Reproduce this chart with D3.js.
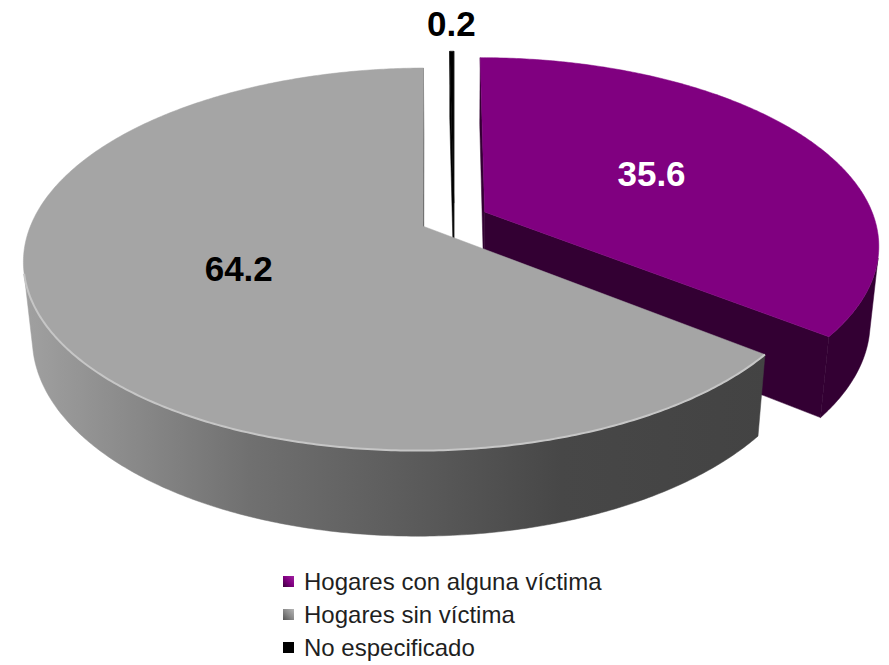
<!DOCTYPE html>
<html>
<head>
<meta charset="utf-8">
<script src="https://cdn.jsdelivr.net/npm/d3@7"></script>
<style>
  body { margin: 0; background: #fff; }
  svg { display: block; font-family: Arial, "Liberation Sans", sans-serif; }
</style>
</head>
<body>
<div id="chart"></div>
<script>
// data
var categories = ["Hogares con alguna víctima", "Hogares sin víctima", "No especificado"];
var values = [35.6, 64.2, 0.2];
var valueLabels = ["35.6", "64.2", "0.2"];

var width = 889, height = 665;
var topColors = ["#800080", "#a5a5a5", "#000000"];
var sideColors = ["#330033", "url(#graySide)", "#000000"];
var faceColors = ["#330033", "#444444", "#000000"];
var labelColors = ["#ffffff", "#000000", "#000000"];
var labelRadius = [0.5, 0.5, 1.22];

// 3d view (unit radius pie, perspective camera)
var cx = 454, cy = 219, S = 390;
var tilt = 28 * Math.PI / 180, dist = 5.14, depth = 0.223, explode = 0.088;
var sinT = Math.sin(tilt), cosT = Math.cos(tilt);
var cam = {x: 0, y: dist * sinT, z: -dist * cosT};

var sx = d3.scaleLinear().domain([-1, 1]).range([cx - S, cx + S]);
var sy = d3.scaleLinear().domain([-1, 1]).range([cy + S, cy - S]);

function project(x, y, z) {
  var w = 1 + (z * cosT - y * sinT) / dist;
  return [sx(x / w), sy((y * cosT + z * sinT) / w)];
}

var svg = d3.select("#chart").append("svg")
  .attr("width", width)
  .attr("height", height);

var defs = svg.append("defs");
var g1 = defs.append("linearGradient").attr("id", "graySide")
  .attr("gradientUnits", "userSpaceOnUse")
  .attr("x1", 27).attr("x2", 770).attr("y1", 0).attr("y2", 0);
[[0, "#a0a0a0"], [0.3, "#707070"], [0.53, "#5a5a5a"], [0.72, "#474747"], [1, "#434343"]]
  .forEach(function(s) { g1.append("stop").attr("offset", s[0]).attr("stop-color", s[1]); });

var lg1 = defs.append("linearGradient").attr("id", "legPurple")
  .attr("x1", 0).attr("y1", 1).attr("x2", 1).attr("y2", 0);
lg1.append("stop").attr("offset", 0).attr("stop-color", "#3a003a");
lg1.append("stop").attr("offset", 0.5).attr("stop-color", "#800080");
lg1.append("stop").attr("offset", 1).attr("stop-color", "#a020a0");
var lg2 = defs.append("linearGradient").attr("id", "legGray")
  .attr("x1", 0).attr("y1", 1).attr("x2", 1).attr("y2", 0);
lg2.append("stop").attr("offset", 0).attr("stop-color", "#555");
lg2.append("stop").attr("offset", 0.5).attr("stop-color", "#8a8a8a");
lg2.append("stop").attr("offset", 1).attr("stop-color", "#b5b5b5");
var legendFills = ["url(#legPurple)", "url(#legGray)", "#000"];

var pie = d3.pie().sort(null).value(function(d) { return d; });
var arcs = pie(values).map(function(d, i) {
  var mid = (d.startAngle + d.endAngle) / 2;
  d.i = i;
  d.mid = mid;
  d.ox = explode * Math.sin(mid);
  d.oz = explode * Math.cos(mid);
  var n = Math.max(2, Math.ceil((d.endAngle - d.startAngle) / 0.01));
  d.angles = d3.range(n + 1).map(function(k) { return d.startAngle + (d.endAngle - d.startAngle) * k / n; });
  return d;
});

function pt(d, a, r, h) {
  return project(d.ox + r * Math.sin(a), h, d.oz + r * Math.cos(a));
}
function facesCam(d, nx, nz, px, pz) {
  return nx * (cam.x - px) + nz * (cam.z - pz) > 0;
}
var line = d3.line();

// draw far slices first
var order = arcs.slice().sort(function(a, b) { return Math.cos(b.mid) - Math.cos(a.mid); });

order.forEach(function(d) {
  var g = svg.append("g");
  var h = -depth;
  // radial faces
  [[d.startAngle, -1], [d.endAngle, 1]].forEach(function(e) {
    var a = e[0];
    var nx = e[1] * Math.cos(a), nz = -e[1] * Math.sin(a);
    if (!facesCam(d, nx, nz, d.ox, d.oz)) return;
    var poly = [pt(d, a, 0, 0), pt(d, a, 1, 0), pt(d, a, 1, h), pt(d, a, 0, h)];
    g.append("path").attr("d", line(poly) + "Z")
      .attr("fill", faceColors[d.i]).attr("stroke", faceColors[d.i]).attr("stroke-width", 0.5);
  });
  // outer wall, visible parts only
  var runs = [], cur = null;
  d.angles.forEach(function(a) {
    var vis = facesCam(d, Math.sin(a), Math.cos(a), d.ox + Math.sin(a), d.oz + Math.cos(a));
    if (vis) { if (!cur) { cur = []; runs.push(cur); } cur.push(a); }
    else cur = null;
  });
  runs.forEach(function(run) {
    if (run.length < 2) return;
    var poly = run.map(function(a) { return pt(d, a, 1, 0); })
      .concat(run.slice().reverse().map(function(a) { return pt(d, a, 1, h); }));
    g.append("path").attr("d", line(poly) + "Z")
      .attr("fill", sideColors[d.i]).attr("stroke", sideColors[d.i]).attr("stroke-width", 0.5);
    if (d.i === 1) {
      g.append("path").attr("class", "rim")
        .attr("d", line(run.map(function(a) { return pt(d, a, 1, 0); })))
        .attr("fill", "none").attr("stroke", "#c6c6c6").attr("stroke-width", 2);
    }
  });
  // top face
  var top = [pt(d, 0, 0, 0)].concat(d.angles.map(function(a) { return pt(d, a, 1, 0); }));
  g.append("path").attr("d", line(top) + "Z")
    .attr("fill", topColors[d.i]).attr("stroke", topColors[d.i]).attr("stroke-width", 0.5);
  g.select(".rim").raise();
});

// value labels
svg.append("g").selectAll("text")
  .data(arcs)
  .join("text")
  .attr("x", function(d) { return pt(d, d.mid, labelRadius[d.i], 0)[0]; })
  .attr("y", function(d) { return pt(d, d.mid, labelRadius[d.i], 0)[1]; })
  .attr("dy", "0.35em")
  .attr("text-anchor", "middle")
  .attr("font-size", 35)
  .attr("font-weight", "bold")
  .attr("fill", function(d) { return labelColors[d.i]; })
  .text(function(d) { return valueLabels[d.i]; });

// legend
var legend = svg.append("g").attr("transform", "translate(283,576)");
var rows = legend.selectAll("g").data(categories).join("g")
  .attr("transform", function(d, i) { return "translate(0," + (i * 33) + ")"; });
rows.append("rect").attr("width", 11).attr("height", 11)
  .attr("fill", function(d, i) { return legendFills[i]; });
rows.append("text")
  .attr("x", 21).attr("y", 5.5).attr("dy", "0.35em")
  .attr("font-size", 24).attr("fill", "#1f1f1f")
  .text(function(d) { return d; });
</script>
</body>
</html>
